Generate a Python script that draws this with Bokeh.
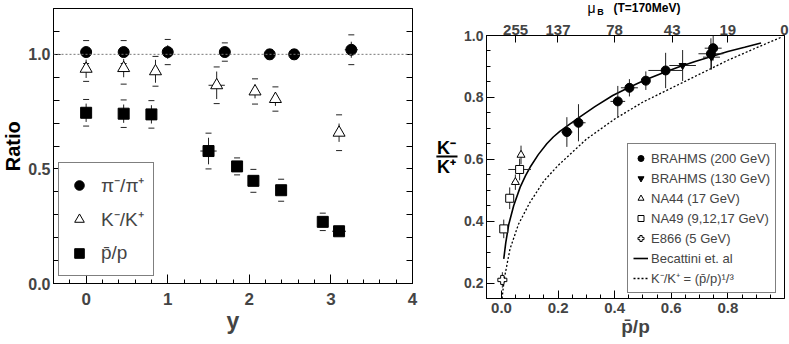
import math
from bokeh.plotting import figure
from bokeh.models import (ColumnDataSource, Span, Legend, LegendItem, LinearAxis,
                          FixedTicker, SingleIntervalTicker, PrintfTickFormatter, Whisker,
                          TeeHead, Range1d)
from bokeh.core.properties import value
from bokeh.layouts import row, column
from bokeh.embed import file_html
from bokeh.resources import INLINE

FONT = "Liberation Sans"

# ---------------- left panel data (ratio vs rapidity y) ----------------
pi_rap = [0.0, 0.46, 1.0, 1.70, 2.25, 2.55, 3.25]
pi_ratio = [1.01, 1.01, 1.01, 1.01, 1.0, 1.0, 1.02]
pi_stat = [0.02, 0.02, 0.03, 0.02, 0.015, 0.015, 0.035]
pi_sys = [0.05, 0.05, 0.055, 0.04, 0.02, 0.02, 0.065]
pi_xerr = [0.0, 0.0, 0.0, 0.05, 0.04, 0.04, 0.08]

k_rap = [0.0, 0.46, 0.85, 1.60, 2.07, 2.32, 3.10]
k_ratio = [0.937, 0.94, 0.926, 0.865, 0.838, 0.805, 0.658]
k_stat = [0.04, 0.04, 0.05, 0.06, 0.03, 0.03, 0.04]
k_sys = [0.055, 0.07, 0.065, 0.08, 0.055, 0.053, 0.078]
k_xerr = [0.0, 0.0, 0.04, 0.1, 0.0, 0.0, 0.0]

p_rap = [0.0, 0.46, 0.80, 1.50, 1.85, 2.05, 2.39, 2.90, 3.10]
p_ratio = [0.745, 0.741, 0.738, 0.578, 0.511, 0.448, 0.407, 0.269, 0.228]
p_stat = [0.04, 0.04, 0.04, 0.058, 0.02, 0.02, 0.02, 0.02, 0.015]
p_sys = [0.058, 0.06, 0.06, 0.078, 0.037, 0.05, 0.048, 0.038, 0.0]
p_xerr = [0.0, 0.0, 0.0, 0.1, 0.0, 0.0, 0.0, 0.0, 0.085]

# ---------------- right panel data (K-/K+ vs pbar/p) ----------------
b200_x = [0.231, 0.272, 0.411, 0.452, 0.51, 0.58, 0.74, 0.748]
b200_y = [0.688, 0.718, 0.787, 0.831, 0.854, 0.887, 0.941, 0.959]
b200_yerr = [0.048, 0.06, 0.05, 0.028, 0.03, 0.057, 0.05, 0.04]
b200_xerr = [0.02, 0.025, 0.026, 0.03, 0.012, 0.061, 0.044, 0.03]

b130_x = [0.64, 0.742]
b130_y = [0.903, 0.93]
b130_yerr = [0.05, 0.04]
b130_xerr = [0.047, 0.03]

na44_x = [0.049, 0.069]
na44_y = [0.526, 0.614]
na44_yerr = [0.025, 0.03]
na44_xerr = [0.012, 0.01]

na49_x = [0.008, 0.029, 0.064]
na49_y = [0.375, 0.474, 0.567]
na49_yerr = [0.03, 0.035, 0.035]
na49_xerr = [0.006, 0.01, 0.04]

e866_x = [0.003]
e866_y = [0.21]
e866_yerr = [0.025]
e866_xerr = [0.0]

bec_x = [0.008, 0.015, 0.026, 0.043, 0.066, 0.085, 0.101, 0.13, 0.16, 0.183, 0.206, 0.24,
         0.276, 0.33, 0.393, 0.45, 0.509, 0.567, 0.626, 0.684, 0.742, 0.8, 0.859, 0.917]
bec_y = [0.278, 0.33, 0.391, 0.45, 0.51, 0.547, 0.574, 0.615, 0.65, 0.672, 0.69, 0.713,
         0.736, 0.77, 0.806, 0.832, 0.857, 0.878, 0.898, 0.916, 0.932, 0.948, 0.962, 0.976]

cube_x = [0.002, 0.01, 0.03, 0.06, 0.1, 0.15, 0.2, 0.3, 0.4, 0.5, 0.6, 0.7, 0.8, 0.9, 0.99]
cube_y = [0.15, 0.215, 0.31, 0.39, 0.46, 0.53, 0.58, 0.665, 0.73, 0.785, 0.83, 0.875, 0.92, 0.96, 0.995]

mu_b = [255, 137, 78, 43, 19, 0]
T_MEV = 170.0
mu_pos = [math.exp(-2.0 * m / T_MEV) for m in mu_b]

ERR = "#222222"


def style_axis(ax, fs, standoff, maj_in, min_in):
    ax.major_tick_in = maj_in
    ax.major_tick_out = 0
    ax.minor_tick_in = min_in
    ax.minor_tick_out = 0
    ax.major_label_text_font = FONT
    ax.major_label_text_font_style = "bold"
    ax.major_label_text_font_size = fs
    ax.major_label_standoff = standoff
    ax.axis_line_color = "black"
    ax.major_tick_line_color = "black"
    ax.minor_tick_line_color = "black"
    ax.axis_label_text_font = FONT
    ax.axis_label_text_font_style = "bold"


def add_errors(p, xs, ys, yerr, xerr, lw=1):
    src = ColumnDataSource(dict(
        x=xs, y=ys,
        ylo=[a - e for a, e in zip(ys, yerr)], yhi=[a + e for a, e in zip(ys, yerr)],
        xlo=[a - e for a, e in zip(xs, xerr)], xhi=[a + e for a, e in zip(xs, xerr)]))
    p.segment("x", "ylo", "x", "yhi", source=src, line_color=ERR, line_width=lw)
    p.segment("xlo", "y", "xhi", "y", source=src, line_color=ERR, line_width=lw)


def add_sys(p, xs, ys, sys):
    sx = [a for a, s in zip(xs, sys) if s > 0]
    sy = [a for a, s in zip(ys, sys) if s > 0]
    ss = [s for s in sys if s > 0]
    src = ColumnDataSource(dict(x=sx, lo=[a - s for a, s in zip(sy, ss)],
                                hi=[a + s for a, s in zip(sy, ss)]))
    w = Whisker(source=src, base="x", upper="hi", lower="lo", dimension="height",
                line_alpha=0,
                upper_head=TeeHead(size=6, line_color=ERR, line_width=1),
                lower_head=TeeHead(size=6, line_color=ERR, line_width=1))
    p.add_layout(w)


def blank_fig(w, h):
    f = figure(width=w, height=h, x_range=Range1d(0, 1), y_range=Range1d(0, 1),
               output_backend="svg", toolbar_location=None, x_axis_type=None,
               y_axis_type=None, min_border=0, min_border_left=0, min_border_right=0,
               min_border_top=0, min_border_bottom=0)
    f.outline_line_color = None
    f.xgrid.visible = False
    f.ygrid.visible = False
    f.frame_align = False
    return f


# ======================= "Ratio" title strip =======================
pr = blank_fig(25, 343)
pr.text(x=[0.5], y=[0.575], text=["Ratio"], angle=math.pi / 2, text_align="center",
        text_baseline="middle", text_font=value(FONT), text_font_style="bold",
        text_font_size="20px")

# ======================= LEFT PANEL =======================
p1 = figure(width=400, height=343, x_range=Range1d(-0.4, 4.0), y_range=Range1d(0, 1.2),
            output_backend="svg", toolbar_location=None, x_axis_type=None, y_axis_type=None,
            min_border_left=23, min_border_right=13, min_border_top=8, min_border_bottom=60)
p1.frame_align = False
p1.outline_line_color = "black"
p1.xgrid.visible = False
p1.ygrid.visible = False

xax = LinearAxis(ticker=SingleIntervalTicker(interval=1, num_minor_ticks=5))
style_axis(xax, "17px", 9, 9, 4)
xax.axis_label = "y"
xax.axis_label_text_font_size = "23px"
xax.axis_label_standoff = 0
p1.add_layout(xax, "below")
yax = LinearAxis(ticker=SingleIntervalTicker(interval=0.5, num_minor_ticks=5),
                 formatter=PrintfTickFormatter(format="%.1f"))
style_axis(yax, "16px", 3, 7, 6)
p1.add_layout(yax, "left")
yax_r = LinearAxis(ticker=FixedTicker(ticks=[], minor_ticks=[i * 0.1 for i in range(1, 12)]),
                   major_label_text_font_size="1px")
style_axis(yax_r, "1px", 0, 6, 6)
p1.add_layout(yax_r, "right")

p1.add_layout(Span(location=1.0, dimension="width", line_color="#777777",
                   line_dash="2 2", line_width=1))

for xs, ys, st, sy, xe in [(pi_rap, pi_ratio, pi_stat, pi_sys, pi_xerr),
                           (k_rap, k_ratio, k_stat, k_sys, k_xerr),
                           (p_rap, p_ratio, p_stat, p_sys, p_xerr)]:
    add_sys(p1, xs, ys, sy)
    add_errors(p1, xs, ys, st, xe)

r_pi = p1.scatter(pi_rap, pi_ratio, marker="circle", size=11, fill_color="black", line_color="black")
r_k = p1.scatter(k_rap, k_ratio, marker="triangle", size=12, fill_color="white", line_color="black")
r_p = p1.scatter(p_rap, p_ratio, marker="square", size=11, fill_color="black", line_color="black")

leg1 = Legend(items=[LegendItem(label="π⁻/π⁺", renderers=[r_pi]),
                     LegendItem(label="K⁻/K⁺", renderers=[r_k]),
                     LegendItem(label="p̄/p", renderers=[r_p])],
              location=(5, 7), orientation="vertical",
              glyph_height=28, glyph_width=24, label_height=28, spacing=6, padding=8,
              label_standoff=10, margin=0,
              label_text_font=FONT, label_text_font_size="19px",
              border_line_color="black", border_line_width=1, background_fill_color="white")
p1.add_layout(leg1)

# ======================= K-/K+ fraction strip =======================
pk = blank_fig(33, 343)
lab = dict(text_align="center", text_baseline="middle", text_font=value(FONT),
           text_font_style="bold")
pk.text(x=[0.64], y=[0.571], text=["K⁻"], text_font_size="18px", **lab)
pk.text(x=[0.64], y=[0.514], text=["K⁺"], text_font_size="18px", **lab)
pk.segment(x0=[0.33], y0=[0.545], x1=[0.97], y1=[0.545], line_color="black", line_width=2)

# ======================= RIGHT PANEL =======================
p2 = figure(width=331, height=326, x_range=Range1d(-0.053, 1.0), y_range=Range1d(0.15, 1.0),
            output_backend="svg", toolbar_location=None, x_axis_type=None, y_axis_type=None,
            min_border_left=28, min_border_right=5, min_border_top=18, min_border_bottom=45)
p2.frame_align = False
p2.outline_line_color = "black"
p2.xgrid.visible = False
p2.ygrid.visible = False

bx = LinearAxis(ticker=FixedTicker(ticks=[0.0, 0.2, 0.4, 0.6, 0.8],
                                   minor_ticks=[i * 0.05 for i in range(0, 20)]),
                formatter=PrintfTickFormatter(format="%.1f"))
style_axis(bx, "15px", 4, 8, 4)
bx.axis_label = "p̄/p"
bx.axis_label_text_font_size = "19px"
bx.axis_label_standoff = 0
p2.add_layout(bx, "below")
ly = LinearAxis(ticker=FixedTicker(ticks=[0.2, 0.4, 0.6, 0.8, 1.0],
                                   minor_ticks=[0.15 + i * 0.05 for i in range(0, 18)]),
                formatter=PrintfTickFormatter(format="%.1f"))
style_axis(ly, "14px", 3, 8, 4)
p2.add_layout(ly, "left")
tx = LinearAxis(ticker=FixedTicker(ticks=mu_pos),
                major_label_overrides={t: str(m) for t, m in zip(mu_pos, mu_b)})
style_axis(tx, "15px", 1, 7, 0)
p2.add_layout(tx, "above")

r_bec = p2.line(bec_x, bec_y, line_color="black", line_width=1.6)
r_cube = p2.line(cube_x, cube_y, line_color="black", line_width=1.3, line_dash="2 2")

for xs, ys, ye, xe in [(b200_x, b200_y, b200_yerr, b200_xerr),
                       (b130_x, b130_y, b130_yerr, b130_xerr),
                       (na44_x, na44_y, na44_yerr, na44_xerr),
                       (na49_x, na49_y, na49_yerr, na49_xerr),
                       (e866_x, e866_y, e866_yerr, e866_xerr)]:
    add_errors(p2, xs, ys, ye, xe)

r_b200 = p2.scatter(b200_x, b200_y, marker="circle", size=9, fill_color="black", line_color="black")
r_b130 = p2.scatter(b130_x, b130_y, marker="inverted_triangle", size=7, fill_color="black", line_color="black")
r_na44 = p2.scatter(na44_x, na44_y, marker="triangle", size=8, fill_color="white", line_color="black")
r_na49 = p2.scatter(na49_x, na49_y, marker="square", size=8, fill_color="white", line_color="black")
r_e866 = p2.scatter(e866_x, e866_y, marker="plus", size=9, fill_color="white", line_color="black")

leg2 = Legend(items=[LegendItem(label="BRAHMS (200 GeV)", renderers=[r_b200]),
                     LegendItem(label="BRAHMS (130 GeV)", renderers=[r_b130]),
                     LegendItem(label="NA44 (17 GeV)", renderers=[r_na44]),
                     LegendItem(label="NA49 (9,12,17 GeV)", renderers=[r_na49]),
                     LegendItem(label="E866 (5 GeV)", renderers=[r_e866]),
                     LegendItem(label="Becattini et. al", renderers=[r_bec]),
                     LegendItem(label="K⁻/K⁺ = (p̄/p)¹/³", renderers=[r_cube])],
              location=(141, 5), orientation="vertical",
              glyph_height=18, glyph_width=15, label_height=18, spacing=2, padding=5,
              label_standoff=3, margin=0,
              label_text_font=FONT, label_text_font_size="13px",
              border_line_color="black", border_line_width=1, background_fill_color="white")
p2.add_layout(leg2)

# ======================= mu_B title strip =======================
pt = blank_fig(331, 17)
pt.text(x=[0.402], y=[0.53], text=["μ"], text_font_size="14px", text_align="center",
        text_baseline="middle", text_font=value(FONT))
pt.text(x=[0.429], y=[0.30], text=["B"], text_font_size="9px", text_align="center",
        text_baseline="middle", text_font=value(FONT), text_font_style="bold")
pt.text(x=[0.468], y=[0.53], text=["(T=170MeV)"], text_font_size="12px", text_align="left",
        text_baseline="middle", text_font=value(FONT), text_font_style="bold")

layout = row(pr, p1, pk, column(pt, p2))
open("out.html", "w").write(file_html(layout, INLINE))
